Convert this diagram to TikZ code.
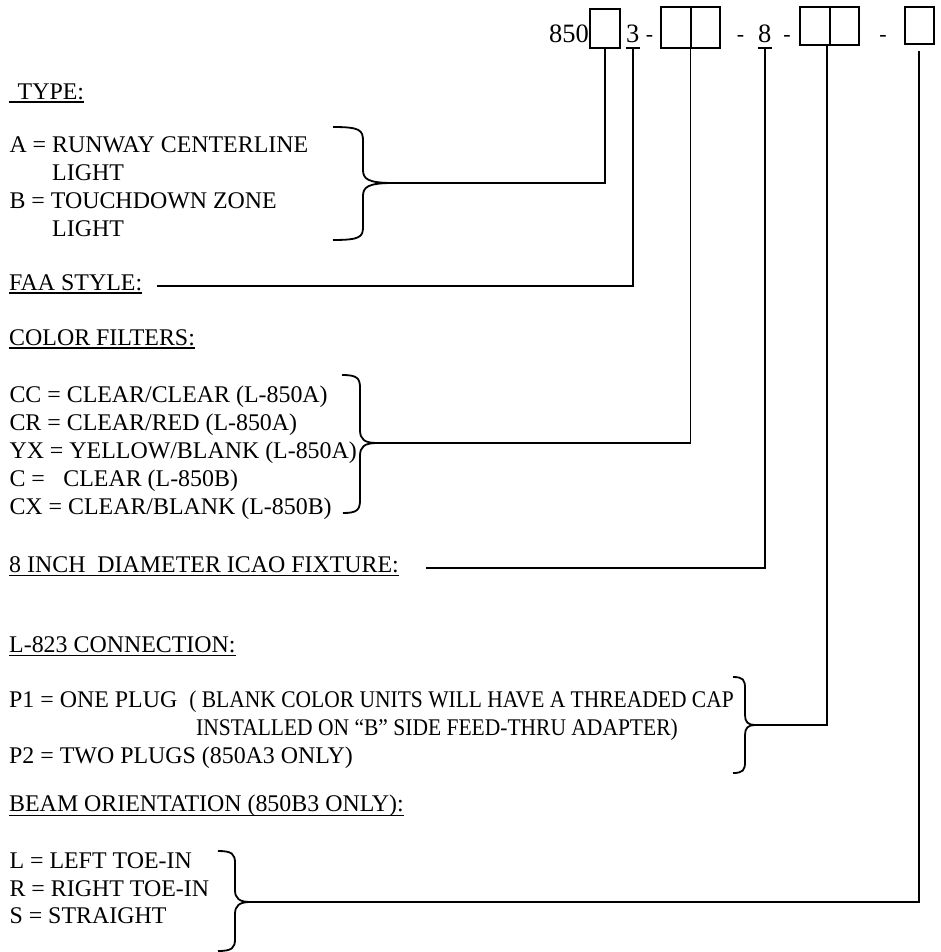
\documentclass[tikz,border=0pt]{standalone}
\usepackage{fontspec}
\setmainfont{Liberation Serif}
\newfontfamily\condensed[FakeStretch=0.9]{Liberation Serif}
\begin{document}
\begin{tikzpicture}[x=1pt,y=-1pt,
  txt/.style={anchor=base west,inner sep=0pt,font=\fontsize{23.9}{28}\selectfont},
  toptxt/.style={anchor=base west,inner sep=0pt,font=\fontsize{26.5}{30}\selectfont},
  dashtxt/.style={anchor=base,inner sep=0pt,font=\fontsize{22}{26}\selectfont},
  box/.style={draw,line width=2pt,inner sep=0pt},
  conn/.style={line width=1.6pt},
  brace/.style={line width=1.8pt},
  uline/.style={line width=1.4pt}]
\useasboundingbox (0,0) rectangle (940,952);

% ---- top part number row ----
\node[toptxt] (n850) at (549,43) {850};
\node[box,minimum width=30pt,minimum height=39pt] (b1) at (605,28.5) {};
\node[toptxt] (n3) at (626,43) {3};
\node[dashtxt] (d1) at (649.5,42) {-};
\node[box,minimum width=59pt,minimum height=41pt] (b2) at (690.5,27.5) {};
\draw[line width=2pt] (b2.north) -- (b2.south);
\node[dashtxt] (d2) at (740.5,42) {-};
\node[toptxt] (n8) at (758,43) {8};
\node[dashtxt] (d3) at (787,42) {-};
\node[box,minimum width=59pt,minimum height=38pt] (b3) at (829.5,26) {};
\draw[line width=2pt] (b3.north) -- (b3.south);
\node[dashtxt] (d4) at (883,42) {-};
\node[box,minimum width=29pt,minimum height=37pt] (b4) at (919.5,25.5) {};
\draw[uline] ([yshift=-5pt]n3.base west) -- ([yshift=-5pt]n3.base east);
\draw[uline] ([yshift=-5pt]n8.base west) -- ([yshift=-5pt]n8.base east);
\coordinate (t3) at (633,48);
\coordinate (t8) at (765,48);
\coordinate (t4) at (919,51);

% ---- TYPE ----
\node[txt] (hType) at (9,99.5) {\hspace*{8.5pt}TYPE:};
\draw[uline] ([yshift=-2.5pt]hType.base west) -- ([yshift=-2.5pt]hType.base east);
\node[txt] (a1) at (9.3,152.7) {A = RUNWAY CENTERLINE};
\node[txt] (a2) at (52,180.7) {LIGHT};
\node[txt] (a3) at (9.3,208) {B = TOUCHDOWN ZONE};
\node[txt] (a4) at (52,236) {LIGHT};
\draw[brace] (333,127) .. controls (360,127) and (363,130) .. (363,141) -- (363,170)
  .. controls (363,179) and (368,183) .. (393,183)
  .. controls (368,183) and (363,187) .. (363,196) -- (363,227)
  .. controls (363,237) and (360,240) .. (333,240);
\coordinate (tipA) at (393,183);
\draw[conn] (tipA) -| (b1.south);

% ---- FAA STYLE ----
\node[txt] (hFaa) at (9,290) {FAA STYLE:};
\draw[uline] ([yshift=-3pt]hFaa.base west) -- ([yshift=-3pt]hFaa.base east);
\coordinate (faaL) at (157,286);
\draw[conn] (faaL) -| (t3);

% ---- COLOR FILTERS ----
\node[txt] (hColor) at (9,345) {COLOR FILTERS:};
\draw[uline] ([yshift=-3pt]hColor.base west) -- ([yshift=-3pt]hColor.base east);
\node[txt] (c1) at (9.3,402) {CC = CLEAR/CLEAR (L-850A)};
\node[txt] (c2) at (9.3,430) {CR = CLEAR/RED (L-850A)};
\node[txt] (c3) at (9.3,458) {YX = YELLOW/BLANK (L-850A)};
\node[txt] (c4) at (9.3,486) {C =\hspace*{18.5pt}CLEAR (L-850B)};
\node[txt] (c5) at (9.3,514) {CX = CLEAR/BLANK (L-850B)};
\draw[brace] (342,375) .. controls (357,375) and (360,378) .. (360,388) -- (360,430)
  .. controls (360,439) and (364,443) .. (377,443)
  .. controls (364,443) and (360,447) .. (360,456) -- (360,500)
  .. controls (360,510) and (357,513) .. (343,513);
\coordinate (tipC) at (377,443);
\draw[conn] (tipC) -| (b2.south);

% ---- 8 INCH ----
\node[txt] (hFix) at (9,572) {8 INCH\ \ DIAMETER ICAO FIXTURE:};
\draw[uline] ([yshift=-3.5pt]hFix.base west) -- ([yshift=-3.5pt]hFix.base east);
\coordinate (fixL) at (426,568);
\draw[conn] (fixL) -| (t8);

% ---- L-823 CONNECTION ----
\node[txt] (hConn) at (9,652) {L-823 CONNECTION:};
\draw[uline] ([yshift=-3.5pt]hConn.base west) -- ([yshift=-3.5pt]hConn.base east);
\node[txt] (p1) at (9,707) {P1 = ONE PLUG\ \ {\condensed ( BLANK COLOR UNITS WILL HAVE A THREADED CAP}};
\node[txt] (p1b) at (196,735) {\condensed INSTALLED ON “B” SIDE FEED-THRU ADAPTER)};
\node[txt] (p2) at (9,763) {P2 = TWO PLUGS (850A3 ONLY)};
\draw[brace] (733,677) .. controls (743,677) and (745,680) .. (745,688) -- (745,715)
  .. controls (745,722) and (748,725) .. (755,725)
  .. controls (748,725) and (745,728) .. (745,735) -- (745,762)
  .. controls (745,770) and (743,773) .. (733,773);
\coordinate (tipP) at (755,725);
\draw[conn] (tipP) -| ([xshift=-2.5pt]b3.south);

% ---- BEAM ORIENTATION ----
\node[txt] (hBeam) at (9,811.7) {BEAM ORIENTATION (850B3 ONLY):};
\draw[uline] ([yshift=-3.5pt]hBeam.base west) -- ([yshift=-3.5pt]hBeam.base east);
\node[txt] (l1) at (9.3,868) {L = LEFT TOE-IN};
\node[txt] (l2) at (9.3,896) {R = RIGHT TOE-IN};
\node[txt] (l3) at (9.3,923) {S = STRAIGHT};
\draw[brace] (218,851) .. controls (232,851) and (235,854) .. (235,863) -- (235,890)
  .. controls (235,898) and (239,902) .. (250,902)
  .. controls (239,902) and (235,906) .. (235,914) -- (235,939)
  .. controls (235,948) and (232,951) .. (218,951);
\coordinate (tipB) at (250,902);
\draw[conn] (tipB) -| (t4);
\end{tikzpicture}
\end{document}
